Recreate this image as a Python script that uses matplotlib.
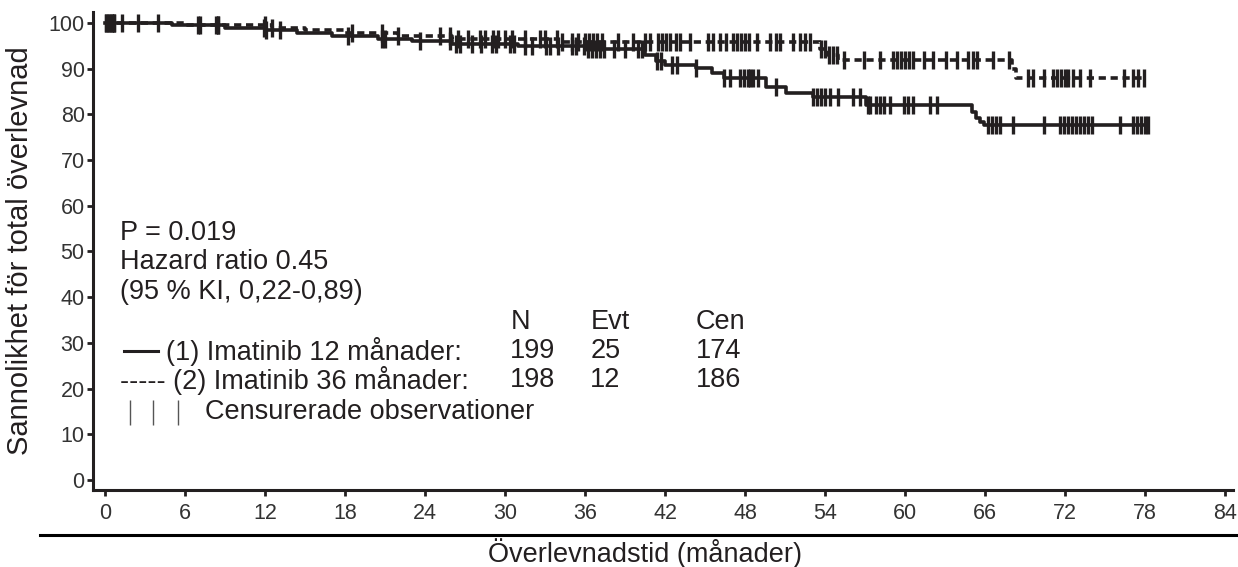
import numpy as np
import matplotlib
matplotlib.use('Agg')
import matplotlib.pyplot as plt
from matplotlib.lines import Line2D

plt.rcParams['font.family'] = ['Liberation Sans', 'DejaVu Sans']

INK = '#231f20'

# ── Kaplan-Meier steps (months, % alive) ─────────────────────────────────────
ARM1_T = [0, 5.0, 9.0, 12.0, 14.4, 17.0, 20.5, 23.0, 26.0, 31.0, 36.0, 40.5,
          41.3, 42.0, 44.3, 45.5, 46.4, 49.6, 51.1, 53.1, 57.1, 65.0, 65.3,
          65.6, 65.9]
ARM1_S = [100, 99.5, 99.0, 98.5, 97.8, 97.2, 96.6, 96.0, 95.4, 94.9, 94.4,
          93.0, 91.6, 90.8, 90.1, 89.0, 87.9, 85.9, 84.6, 83.7, 82.0, 80.5,
          79.3, 78.3, 77.6]
ARM1_END = 78.2

ARM2_T = [0, 6.0, 12.5, 15.0, 18.0, 22.0, 26.0, 34.0, 53.6, 54.2, 55.0,
          68.0, 68.3]
ARM2_S = [100, 99.5, 99.0, 98.4, 97.8, 97.2, 96.6, 95.9, 94.2, 93.0, 91.9,
          90.0, 88.0]
ARM2_END = 77.9

# censored observations (months)
ARM1_CENS = [0.1, 0.3, 0.5, 0.7, 1.3, 4.0, 7.1, 8.3, 8.5, 11.9, 12.1, 13.1,
             18.2, 20.8, 21.0, 23.6, 25.9, 26.3, 26.6, 27.5, 28.2, 29.0, 29.3,
             30.4, 30.7, 31.5, 32.0, 33.1, 33.4, 34.0, 35.0, 35.3, 35.9, 36.2,
             36.5, 36.8, 37.1, 37.4, 38.2, 39.0, 40.0, 40.3, 41.4, 41.7, 42.5,
             42.9, 44.3, 46.4, 46.9, 47.6, 47.9, 48.2, 48.4, 48.6, 49.0, 50.3,
             53.1, 53.4, 53.7, 54.0, 54.4, 55.0, 56.1, 56.6, 57.2, 57.4, 57.8,
             58.1, 58.4, 58.9, 59.9, 60.2, 60.6, 61.9, 62.4, 66.2, 66.5, 66.8,
             67.1, 68.1, 70.4, 71.6, 71.9, 72.2, 72.5, 72.8, 73.1, 73.4, 73.7,
             74.0, 76.1, 77.1, 77.4, 77.7, 78.0, 78.2]
ARM2_CENS = [0.1, 0.3, 0.5, 0.7, 2.5, 7.0, 8.5, 12.0, 12.5, 18.5, 20.8, 22.0,
             25.1, 25.9, 26.5, 27.2, 28.1, 28.5, 29.1, 29.5, 30.0, 30.5, 31.5,
             32.6, 33.0, 33.9, 34.3, 35.0, 35.5, 36.0, 36.3, 36.6, 36.9, 37.3,
             38.5, 39.6, 40.5, 40.9, 41.5, 41.8, 42.1, 42.4, 42.8, 43.1, 43.9,
             45.2, 45.6, 46.1, 46.6, 47.1, 47.4, 47.7, 48.0, 48.3, 48.9, 49.9,
             50.3, 50.6, 51.6, 52.1, 52.5, 52.9, 53.7, 54.0, 54.3, 54.6, 54.9,
             55.4, 56.9, 58.1, 59.1, 59.4, 59.7, 60.0, 60.3, 60.6, 61.4, 62.1,
             63.1, 63.9, 64.7, 65.1, 65.4, 66.6, 67.8, 69.2, 69.6, 70.4, 71.1,
             71.4, 71.7, 72.0, 72.2, 72.6, 73.1, 73.9, 76.4, 77.1, 77.5, 77.9]

X_TICKS = list(range(0, 85, 6))
Y_TICKS = list(range(0, 101, 10))

STATS = ['P = 0.019', 'Hazard ratio 0.45', '(95 % KI, 0,22-0,89)']
HEADERS = ['N', 'Evt', 'Cen']
ROW_LABELS = ['(1) Imatinib 12 månader:', '----- (2) Imatinib 36 månader:']
ROW_VALUES = [[199, 25, 174], [198, 12, 186]]
CENS_LABEL = 'Censurerade observationer'

FS = 19.5


def step_value(times, surv, t):
    i = np.searchsorted(times, t, side='right') - 1
    return np.asarray(surv)[np.clip(i, 0, len(surv) - 1)]


fig = plt.figure(figsize=(12.38, 5.67), dpi=100)
ax = fig.add_axes([0.0751, 0.1358, 0.9209, 0.843])

for T, S, end, ls, cens in [(ARM1_T, ARM1_S, ARM1_END, '-', ARM1_CENS),
                            (ARM2_T, ARM2_S, ARM2_END, (0, (2, 1.3)), ARM2_CENS)]:
    tt = list(T) + [end]
    ss = list(S) + [S[-1]]
    ax.step(tt, ss, where='post', color=INK, lw=2.6, ls=ls)
    c = np.array(cens)
    ax.plot(c, step_value(T, S, c), ls='none', marker='|', ms=12.5,
            mew=2.4, color=INK)

ax.set_xlim(-0.9, 84.6)
ax.set_ylim(-2.2, 102.4)
ax.set_xticks(X_TICKS)
ax.set_yticks(Y_TICKS)
for s in ['top', 'right']:
    ax.spines[s].set_visible(False)
for s in ['left', 'bottom']:
    ax.spines[s].set_linewidth(2.2)
    ax.spines[s].set_color(INK)
ax.tick_params(axis='both', length=4, width=2, color=INK, labelsize=15.5,
               labelcolor='#333333', pad=2)
ax.tick_params(axis='x', pad=5)

ax.set_ylabel('Sannolikhet för total överlevnad', fontsize=21, color=INK)
ax.yaxis.set_label_coords(-0.052, 0.5)

# stats text block
for txt, y in zip(STATS, [54.0, 47.6, 41.1]):
    ax.text(1.1, y, txt, fontsize=FS, va='center', ha='left', color=INK)

col_x = [30.4, 36.4, 44.3]
for h, x in zip(HEADERS, col_x):
    ax.text(x, 34.6, h, fontsize=FS, va='center', ha='left', color=INK)
for lab, vals, y in zip(ROW_LABELS, ROW_VALUES, [28.2, 21.8]):
    x0 = 4.6 if lab.startswith('(') else 1.1
    ax.text(x0, y, lab, fontsize=FS, va='center', ha='left', color=INK)
    for v, x in zip(vals, col_x):
        ax.text(x, y, str(v), fontsize=FS, va='center', ha='left', color=INK)
ax.plot([1.4, 4.0], [28.2, 28.2], color=INK, lw=2.2)
ax.vlines([1.9, 3.6, 5.5], 12.0, 17.4, color='#555555', lw=1)
ax.text(7.5, 14.9, CENS_LABEL, fontsize=FS, va='center', ha='left', color=INK)

# rule above the x-axis title
fig.add_artist(Line2D([40 / 1238, 1.0], [1 - 535 / 567] * 2,
                      transform=fig.transFigure, color='black', lw=2.2))
fig.text(645 / 1238, 1 - 553 / 567, 'Överlevnadstid (månader)', fontsize=FS,
         ha='center', va='center', color=INK)

fig.savefig('out.png', dpi=100)
